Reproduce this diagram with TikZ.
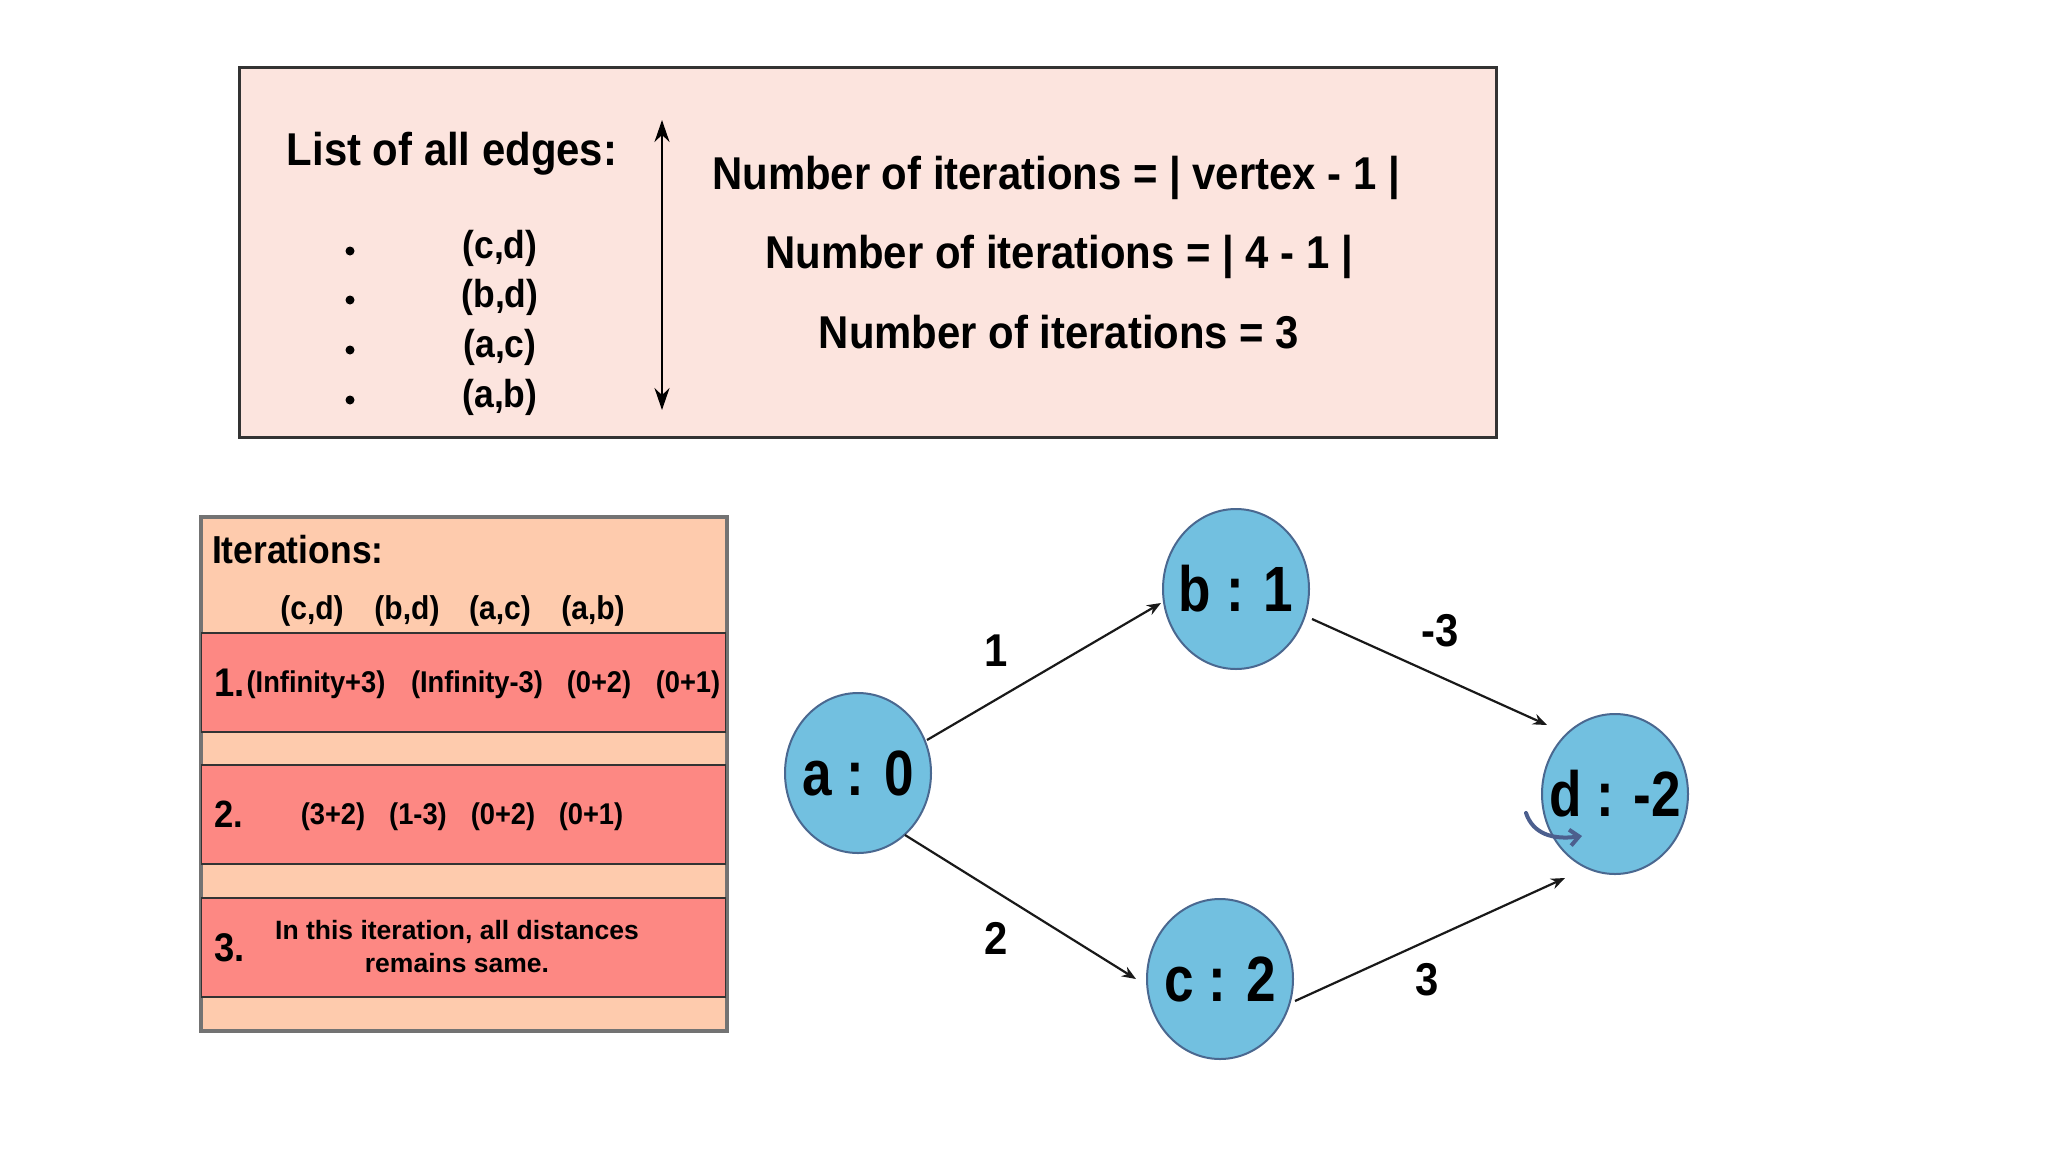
\documentclass[tikz,border=0pt]{standalone}
\usepackage{fontspec}
\setmainfont{Liberation Sans}[FakeStretch=0.91]
\newfontfamily\nodefont{Liberation Sans}[FakeStretch=0.83]
\newfontfamily\widefont{Liberation Sans}
\usetikzlibrary{arrows.meta,shapes.geometric,calc}
\newcommand\fsz[1]{\fontsize{#1}{#1}\selectfont}
\definecolor{boxpink}{HTML}{FCE4DE}
\definecolor{peach}{HTML}{FECBAD}
\definecolor{salmon}{HTML}{FD8883}
\definecolor{nodeblue}{HTML}{72C0E0}
\definecolor{nodeedge}{HTML}{4A6890}
\definecolor{curvecol}{HTML}{4C5F8E}
\begin{document}
\begin{tikzpicture}[x=1pt,y=-1pt,
  txt/.style={inner sep=0pt, outer sep=0pt},
  big/.style={txt, font={\bfseries\fsz{46}}},
  item/.style={txt, font={\bfseries\fsz{39}}},
  hdr/.style={txt, font={\bfseries\fsz{33}}},
  cell/.style={txt, font={\bfseries\fsz{30}}},
  num/.style={txt, font={\bfseries\fsz{40}}},
  vert/.style={ellipse, draw=nodeedge, fill=nodeblue, line width=2pt,
    minimum width=146pt, minimum height=160pt, inner sep=0pt},
  vlabel/.style={txt, font={\nodefont\bfseries\fsz{64}}},
  elabel/.style={txt, font={\bfseries\fsz{46}}},
  rowbox/.style={rectangle, draw=black!80, line width=2pt, inner sep=0pt,
    minimum width=525pt},
  edge/.style={line width=2.2pt, black!90, -{Stealth[length=14pt,width=11pt]}},
  bulletdot/.style={circle, fill=black, inner sep=0pt, minimum size=9pt}
]
\useasboundingbox (0,0) rectangle (2048,1152);
\fill[white] (0,0) rectangle (2048,1152);

% ---------- top box ----------
\node[rectangle, draw=black!80, fill=boxpink, line width=3pt, inner sep=0pt,
  minimum width=1257pt, minimum height=370pt, anchor=north west] (topbox) at (238,66) {};
\node[big, anchor=base] (listhdr) at (452,165) {List of all edges:};
\node[bulletdot] (b1) at (350,251) {};
\node[bulletdot] (b2) at (350,300) {};
\node[bulletdot] (b3) at (350,350) {};
\node[bulletdot] (b4) at (350,400) {};
\node[item, anchor=base] (e1) at (500,258) {(c,d)};
\node[item, anchor=base] (e2) at (500,307) {(b,d)};
\node[item, anchor=base] (e3) at (500,357) {(a,c)};
\node[item, anchor=base] (e4) at (500,407) {(a,b)};
\coordinate (arrtop) at (662,120);
\coordinate (arrbot) at (662,410);
\draw[line width=2.5pt, {Stealth[length=22pt,width=15pt]}-{Stealth[length=22pt,width=15pt]}] (arrtop) -- (arrbot);
\node[big, anchor=base] (it1) at (1056,189) {Number of iterations = | vertex - 1 |};
\node[big, anchor=base] (it2) at (1059,268) {Number of iterations = | 4 - 1 |};
\node[big, anchor=base] (it3) at (1059,348) {Number of iterations = 3};

% ---------- table ----------
\node[rectangle, draw=black!55, fill=peach, line width=2.5pt, inner sep=0pt,
  minimum width=525pt, minimum height=513pt, anchor=north west] (tbl) at (200,516) {};
\node[rowbox, fill=salmon, minimum height=99pt, anchor=north west] (row1) at (200,632) {};
\node[rowbox, fill=salmon, minimum height=99pt, anchor=north west] (row2) at (200,764) {};
\node[rowbox, fill=salmon, minimum height=99pt, anchor=north west] (row3) at (200,897) {};
\draw[line width=2.5pt, black!55] (tbl.north west) rectangle (tbl.south east);

\node[txt, font={\bfseries\fsz{39}}, anchor=base west] (ithdr) at (212,563) {Iterations:};
\node[hdr, anchor=base] (h1) at (312,619) {(c,d)};
\node[hdr, anchor=base] (h2) at (407,619) {(b,d)};
\node[hdr, anchor=base] (h3) at (500,619) {(a,c)};
\node[hdr, anchor=base] (h4) at (593,619) {(a,b)};

\node[num, anchor=base west] (n1) at (214,696) {1.};
\node[cell, anchor=base] (c11) at (316,692) {(Infinity+3)};
\node[cell, anchor=base] (c12) at (477,692) {(Infinity-3)};
\node[cell, anchor=base] (c13) at (599,692) {(0+2)};
\node[cell, anchor=base] (c14) at (688,692) {(0+1)};

\node[txt, font={\bfseries\fsz{38}}, anchor=base west] (n2) at (214,827) {2.};
\node[cell, anchor=base] (c21) at (333,824) {(3+2)};
\node[cell, anchor=base] (c22) at (418,824) {(1-3)};
\node[cell, anchor=base] (c23) at (503,824) {(0+2)};
\node[cell, anchor=base] (c24) at (591,824) {(0+1)};

\node[num, anchor=base west] (n3) at (214,961) {3.};
\node[txt, font={\widefont\bfseries\fsz{26.5}}, anchor=base] (r3a) at (457,939) {In this iteration, all distances};
\node[txt, font={\widefont\bfseries\fsz{26.5}}, anchor=base] (r3b) at (457,972) {remains same.};

% ---------- graph ----------
\node[vert] (a) at (858,773) {};
\node[vert] (b) at (1236,589) {};
\node[vert] (c) at (1220,979) {};
\node[vert] (d) at (1615,794) {};
\node[vlabel] (al) at (a) {a : 0};
\node[vlabel] (bl) at (b) {b : 1};
\node[vlabel] (cl) at (c) {c : 2};
\node[vlabel] (dl) at (d) {d : -2};

\draw[edge] ($(a)+(69,-33)$) -- ($(b)+(-75,14)$);
\draw[edge] ($(a)+(47,62)$) -- ($(c)+(-84,0)$);
\draw[edge] ($(b)+(76,30)$) -- ($(d)+(-68,-69)$);
\draw[edge] ($(c)+(75,22)$) -- ($(d)+(-50,84)$);

\node[elabel] (w1) at (996,651) {1};
\node[elabel] (w2) at (996,938) {2};
\node[elabel] (w3) at (1440,631) {-3};
\node[elabel] (w4) at (1427,980) {3};

% small curved arrow inside d
\coordinate (cvs) at ($(d)+(-89,19)$);
\coordinate (cve) at ($(d)+(-33,42)$);
\draw[curvecol, line width=4pt, line cap=round, -{Straight Barb[length=9pt,width=16pt]}]
  (cvs) .. controls ($(d)+(-82,40)$) and ($(d)+(-62,46)$) .. (cve);
\end{tikzpicture}
\end{document}
